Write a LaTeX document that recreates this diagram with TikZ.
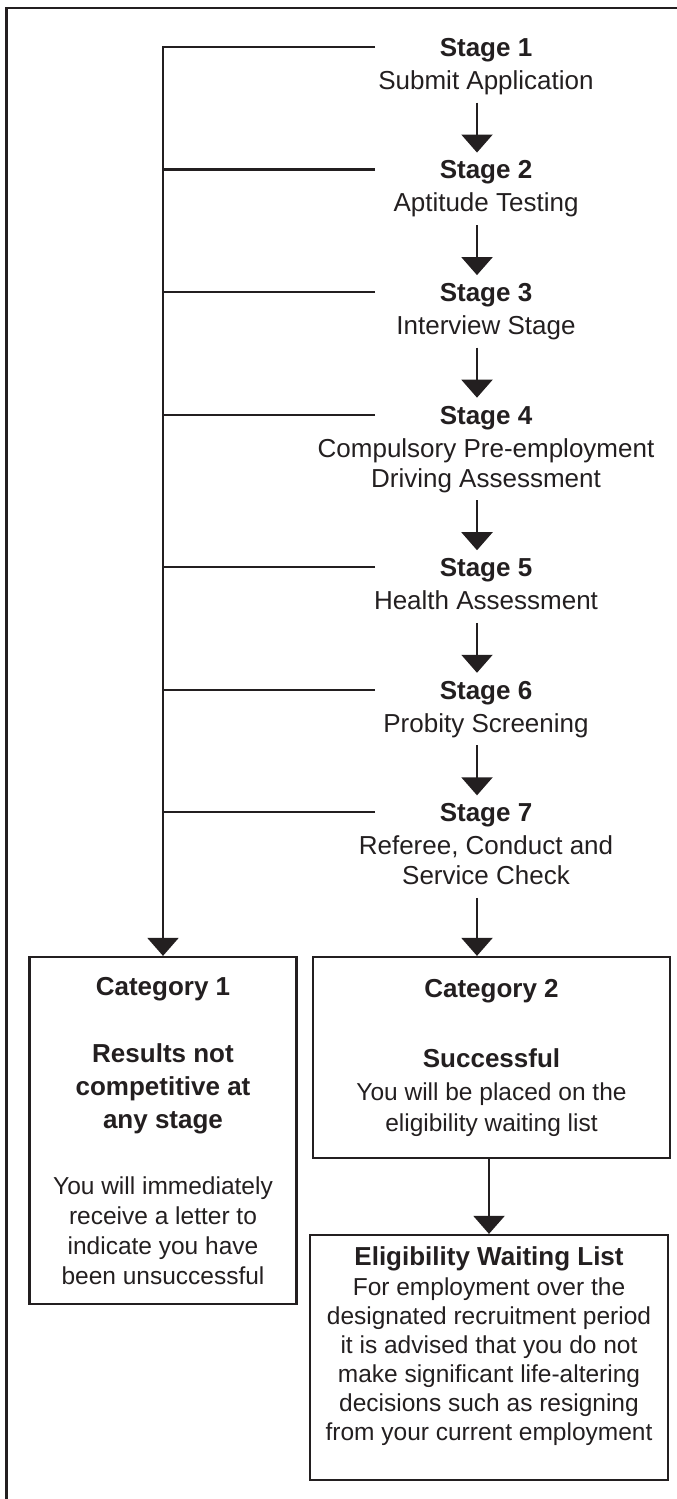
\documentclass[tikz,border=0pt]{standalone}
\usepackage{fontspec}
\setmainfont{Liberation Sans}
\usetikzlibrary{positioning,arrows.meta}
\definecolor{ink}{RGB}{35,31,32}
\newcommand{\cathead}[1]{{\fontsize{26}{30}\selectfont\bfseries #1}}

\begin{document}
\begin{tikzpicture}[
	x=1pt, y=-1pt, color=ink,
	node distance=62pt and 14pt,
	stagenode/.style={align=center,inner sep=0pt,font=\fontsize{26}{30}\selectfont,execute at end node=\strut},
	catbox/.style={draw,line width=2.5pt,align=center,inner sep=0pt,font=\fontsize{24.5}{30}\selectfont},
	branch/.style={line width=2.2pt},
	flow/.style={line width=2.2pt,-{Triangle[length=18pt,width=31pt]}},
	stepflow/.style={flow,shorten <=4pt,shorten >=8pt}
	]
	\useasboundingbox (0,0) rectangle (677,1499);
	\draw[line width=2.5pt] (6.5,1499) -- (6.5,8) -- (677,8);

	\node[stagenode,anchor=north] (s1) at (486,38) {\textbf{Stage 1}\\[3pt]Submit Application};
	\node[stagenode,below=of s1] (s2) {\textbf{Stage 2}\\[3pt]Aptitude Testing};
	\node[stagenode,below=of s2] (s3) {\textbf{Stage 3}\\[3pt]Interview Stage};
	\node[stagenode,below=of s3] (s4) {\textbf{Stage 4}\\[3pt]Compulsory Pre-employment\\Driving Assessment};
	\node[stagenode,below=of s4] (s5) {\textbf{Stage 5}\\[3pt]Health Assessment};
	\node[stagenode,below=of s5] (s6) {\textbf{Stage 6}\\[3pt]Probity Screening};
	\node[stagenode,below=of s6] (s7) {\textbf{Stage 7}\\[3pt]Referee, Conduct and\\Service Check};

	\node[catbox,minimum width=357pt,minimum height=201pt,below=of s7,xshift=5.5pt] (cat2)
	{\cathead{Category 2}\\[40pt]\cathead{Successful}\\[3pt]You will be placed on the\\[1pt]eligibility waiting list};
	\node[catbox,minimum width=267pt,minimum height=347pt,anchor=north east] (cat1) at ([xshift=-14pt]cat2.north west)
	{\cathead{Category 1}\\[37pt]\cathead{Results not}\\[3pt]\cathead{competitive at}\\[3pt]\cathead{any stage}\\[36pt]You will immediately\\receive a letter to\\indicate you have\\been unsuccessful};
	\node[catbox,minimum width=358pt,minimum height=245pt,below=74.5pt of cat2,xshift=-2.5pt,font=\fontsize{24.5}{29}\selectfont] (elig)
	{\cathead{Eligibility Waiting List}\\[1pt]For employment over the\\designated recruitment period\\it is advised that you do not\\make significant life-altering\\decisions such as resigning\\from your current employment\\\mbox{}};

	\foreach \i in {1,...,7}
		\coordinate (b\i) at ([xshift=-111pt,yshift=-9pt]s\i.north);
	\coordinate (a7) at ([xshift=-9pt]s7.south);

	\draw[flow] (b1) -| (cat1.north);
	\foreach \i in {2,...,7}
		\draw[branch] (b\i) -- (b\i -| cat1.north);

	\foreach \a/\b in {s1/s2,s2/s3,s3/s4,s4/s5,s5/s6,s6/s7}
		\draw[stepflow] ([xshift=-9pt]\a.south) -- ([xshift=-9pt]\b.north);
	\draw[flow,shorten <=4pt] (a7) -- (a7 |- cat2.north);
	\draw[flow] (cat2.south -| elig.north) -- (elig.north);
\end{tikzpicture}
\end{document}
